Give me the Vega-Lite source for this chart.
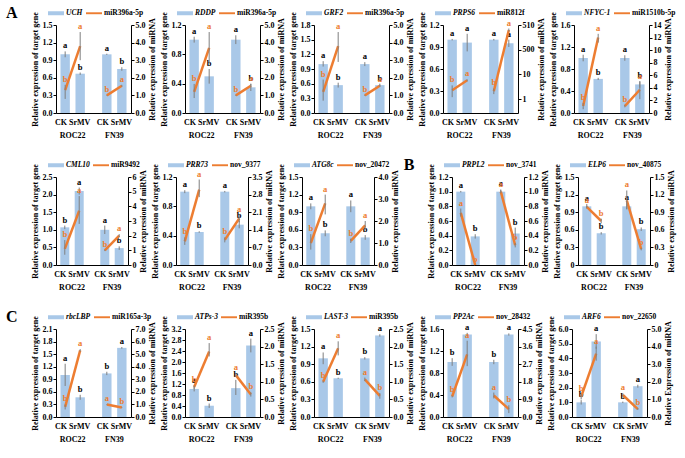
{
"$schema":"https://vega.github.io/schema/vega-lite/v6.json",
"config":{"font":"Liberation Serif","view":{"stroke":null},
"axis":{"labelFont":"Liberation Serif","titleFont":"Liberation Serif","labelFontWeight":"bold","labelFontSize":8,"titleFontWeight":"bold","titleFontSize":8,"domainColor":"#000","tickColor":"#000","labelColor":"#000","titleColor":"#000","grid":false,"tickSize":3,"labelPadding":1,"titlePadding":3,"labelOverlap":false},
"legend":{"labelFont":"Liberation Serif","symbolSize":256,"labelFontSize":7.5,"labelFontWeight":"bold","labelColor":"#000","symbolOpacity":1,"columnPadding":3,"labelOffset":2,"padding":0,"orient":"none","legendX":-8,"legendY":-20,"direction":"horizontal"},
"text":{"font":"Liberation Serif","fontWeight":"bold","fontSize":8.5},
"title":{"font":"Liberation Serif","fontSize":16,"fontWeight":"bold","color":"#000"}},
"data":{"values":[
{"p":"UCH","grp":"ROC22","trt":"CK","g":1.0,"gl":0.95,"gh":1.05,"ga":"a","m":1.3,"ml":0.8,"mh":1.6,"ma":"b"},
{"p":"UCH","grp":"ROC22","trt":"SrMV","g":0.67,"gl":0.65,"gh":0.69,"ga":"b","m":3.8,"ml":3.0,"mh":4.6,"ma":"a"},
{"p":"UCH","grp":"FN39","trt":"CK","g":1.0,"gl":0.99,"gh":1.01,"ga":"a","m":1.0,"ml":0.98,"mh":1.02,"ma":"b"},
{"p":"UCH","grp":"FN39","trt":"SrMV","g":0.75,"gl":0.72,"gh":0.78,"ga":"b","m":1.55,"ml":1.5,"mh":1.6,"ma":"a"},
{"p":"RDDP","grp":"ROC22","trt":"CK","g":1.0,"gl":0.96,"gh":1.04,"ga":"a","m":1.2,"ml":0.85,"mh":1.65,"ma":"b"},
{"p":"RDDP","grp":"ROC22","trt":"SrMV","g":0.5,"gl":0.4,"gh":0.6,"ga":"b","m":3.7,"ml":2.8,"mh":4.6,"ma":"a"},
{"p":"RDDP","grp":"FN39","trt":"CK","g":1.0,"gl":0.94,"gh":1.06,"ga":"a","m":1.0,"ml":0.97,"mh":1.03,"ma":"b"},
{"p":"RDDP","grp":"FN39","trt":"SrMV","g":0.35,"gl":0.3,"gh":0.4,"ga":"b","m":1.55,"ml":1.45,"mh":1.65,"ma":"a"},
{"p":"GRF2","grp":"ROC22","trt":"CK","g":1.0,"gl":0.95,"gh":1.06,"ga":"a","m":1.2,"ml":0.7,"mh":1.9,"ma":"b"},
{"p":"GRF2","grp":"ROC22","trt":"SrMV","g":0.57,"gl":0.52,"gh":0.62,"ga":"b","m":3.8,"ml":2.9,"mh":4.6,"ma":"a"},
{"p":"GRF2","grp":"FN39","trt":"CK","g":1.0,"gl":0.96,"gh":1.04,"ga":"a","m":1.0,"ml":0.97,"mh":1.03,"ma":"b"},
{"p":"GRF2","grp":"FN39","trt":"SrMV","g":0.57,"gl":0.54,"gh":0.6,"ga":"b","m":1.55,"ml":1.5,"mh":1.6,"ma":"a"},
{"p":"PRPS6","grp":"ROC22","trt":"CK","g":1.0,"gl":0.99,"gh":1.01,"ga":"a","m":2.3,"ml":1.2,"mh":3.6,"ma":"b"},
{"p":"PRPS6","grp":"ROC22","trt":"SrMV","g":0.96,"gl":0.84,"gh":1.08,"ga":"a","m":5.8,"ml":5.3,"mh":6.3,"ma":"a"},
{"p":"PRPS6","grp":"FN39","trt":"CK","g":1.0,"gl":0.99,"gh":1.01,"ga":"a","m":2.1,"ml":1.6,"mh":2.7,"ma":"b"},
{"p":"PRPS6","grp":"FN39","trt":"SrMV","g":0.95,"gl":0.9,"gh":1.0,"ga":"a","m":630,"ml":550,"mh":720,"ma":"a"},
{"p":"NFYC-1","grp":"ROC22","trt":"CK","g":1.0,"gl":0.94,"gh":1.06,"ga":"a","m":1.1,"ml":0.6,"mh":1.6,"ma":"b"},
{"p":"NFYC-1","grp":"ROC22","trt":"SrMV","g":0.62,"gl":0.6,"gh":0.64,"ga":"b","m":12,"ml":11.2,"mh":12.6,"ma":"a"},
{"p":"NFYC-1","grp":"FN39","trt":"CK","g":1.0,"gl":0.95,"gh":1.05,"ga":"a","m":1.1,"ml":0.9,"mh":1.3,"ma":"b"},
{"p":"NFYC-1","grp":"FN39","trt":"SrMV","g":0.52,"gl":0.46,"gh":0.58,"ga":"b","m":3.7,"ml":2.2,"mh":5.0,"ma":"a"},
{"p":"CML10","grp":"ROC22","trt":"CK","g":1.07,"gl":1.02,"gh":1.12,"ga":"b","m":1.1,"ml":0.7,"mh":1.7,"ma":"b"},
{"p":"CML10","grp":"ROC22","trt":"SrMV","g":2.1,"gl":2.0,"gh":2.2,"ga":"a","m":3.7,"ml":2.8,"mh":4.7,"ma":"a"},
{"p":"CML10","grp":"FN39","trt":"CK","g":1.0,"gl":0.88,"gh":1.12,"ga":"a","m":1.0,"ml":0.95,"mh":1.05,"ma":"b"},
{"p":"CML10","grp":"FN39","trt":"SrMV","g":0.48,"gl":0.43,"gh":0.53,"ga":"b","m":2.0,"ml":1.9,"mh":2.1,"ma":"a"},
{"p":"PRR73","grp":"ROC22","trt":"CK","g":1.0,"gl":0.98,"gh":1.02,"ga":"a","m":0.94,"ml":0.8,"mh":1.1,"ma":"b"},
{"p":"PRR73","grp":"ROC22","trt":"SrMV","g":0.45,"gl":0.44,"gh":0.46,"ga":"b","m":3.0,"ml":2.7,"mh":3.4,"ma":"a"},
{"p":"PRR73","grp":"FN39","trt":"CK","g":1.0,"gl":0.99,"gh":1.01,"ga":"a","m":1.0,"ml":0.9,"mh":1.1,"ma":"b"},
{"p":"PRR73","grp":"FN39","trt":"SrMV","g":0.55,"gl":0.5,"gh":0.6,"ga":"b","m":1.85,"ml":1.7,"mh":2.0,"ma":"a"},
{"p":"ATG8c","grp":"ROC22","trt":"CK","g":1.0,"gl":0.95,"gh":1.05,"ga":"a","m":1.0,"ml":0.7,"mh":1.4,"ma":"b"},
{"p":"ATG8c","grp":"ROC22","trt":"SrMV","g":0.54,"gl":0.49,"gh":0.59,"ga":"b","m":2.8,"ml":2.3,"mh":3.2,"ma":"a"},
{"p":"ATG8c","grp":"FN39","trt":"CK","g":1.0,"gl":0.9,"gh":1.1,"ga":"a","m":1.1,"ml":1.0,"mh":1.2,"ma":"b"},
{"p":"ATG8c","grp":"FN39","trt":"SrMV","g":0.47,"gl":0.43,"gh":0.51,"ga":"b","m":1.8,"ml":1.6,"mh":2.0,"ma":"a"},
{"p":"PRPL2","grp":"ROC22","trt":"CK","g":1.0,"gl":0.99,"gh":1.01,"ga":"a","m":0.71,"ml":0.66,"mh":0.77,"ma":"a"},
{"p":"PRPL2","grp":"ROC22","trt":"SrMV","g":0.39,"gl":0.36,"gh":0.42,"ga":"b","m":0.0,"ml":0.0,"mh":0.0,"ma":"b"},
{"p":"PRPL2","grp":"FN39","trt":"CK","g":1.0,"gl":0.97,"gh":1.03,"ga":"a","m":1.0,"ml":0.98,"mh":1.02,"ma":"a"},
{"p":"PRPL2","grp":"FN39","trt":"SrMV","g":0.43,"gl":0.35,"gh":0.51,"ga":"b","m":0.27,"ml":0.24,"mh":0.3,"ma":"b"},
{"p":"ELP6","grp":"ROC22","trt":"CK","g":1.0,"gl":0.96,"gh":1.04,"ga":"a","m":0.99,"ml":0.97,"mh":1.01,"ma":"a"},
{"p":"ELP6","grp":"ROC22","trt":"SrMV","g":0.54,"gl":0.52,"gh":0.56,"ga":"b","m":0.75,"ml":0.71,"mh":0.79,"ma":"b"},
{"p":"ELP6","grp":"FN39","trt":"CK","g":1.0,"gl":0.95,"gh":1.05,"ga":"a","m":1.1,"ml":0.95,"mh":1.27,"ma":"a"},
{"p":"ELP6","grp":"FN39","trt":"SrMV","g":0.61,"gl":0.58,"gh":0.64,"ga":"b","m":0.27,"ml":0.25,"mh":0.29,"ma":"b"},
{"p":"rbcLBP","grp":"ROC22","trt":"CK","g":1.0,"gl":0.74,"gh":1.27,"ga":"a","m":0.8,"ml":0.6,"mh":1.0,"ma":"b"},
{"p":"rbcLBP","grp":"ROC22","trt":"SrMV","g":0.47,"gl":0.41,"gh":0.53,"ga":"b","m":5.3,"ml":5.2,"mh":5.4,"ma":"a"},
{"p":"rbcLBP","grp":"FN39","trt":"CK","g":1.04,"gl":1.0,"gh":1.08,"ga":"b","m":1.0,"ml":0.97,"mh":1.03,"ma":"a"},
{"p":"rbcLBP","grp":"FN39","trt":"SrMV","g":1.65,"gl":1.63,"gh":1.67,"ga":"a","m":0.75,"ml":0.72,"mh":0.78,"ma":"b"},
{"p":"ATPs-3","grp":"ROC22","trt":"CK","g":1.02,"gl":0.93,"gh":1.11,"ga":"a","m":0.85,"ml":0.8,"mh":0.9,"ma":"b"},
{"p":"ATPs-3","grp":"ROC22","trt":"SrMV","g":0.41,"gl":0.33,"gh":0.49,"ga":"b","m":1.86,"ml":1.72,"mh":2.1,"ma":"a"},
{"p":"ATPs-3","grp":"FN39","trt":"CK","g":1.05,"gl":0.8,"gh":1.35,"ga":"b","m":1.19,"ml":1.14,"mh":1.24,"ma":"a"},
{"p":"ATPs-3","grp":"FN39","trt":"SrMV","g":2.6,"gl":2.35,"gh":2.85,"ga":"a","m":0.64,"ml":0.58,"mh":0.7,"ma":"b"},
{"p":"LAST-3","grp":"ROC22","trt":"CK","g":1.0,"gl":0.9,"gh":1.1,"ga":"a","m":1.0,"ml":0.97,"mh":1.03,"ma":"b"},
{"p":"LAST-3","grp":"ROC22","trt":"SrMV","g":0.66,"gl":0.65,"gh":0.67,"ga":"b","m":1.95,"ml":1.75,"mh":2.15,"ma":"a"},
{"p":"LAST-3","grp":"FN39","trt":"CK","g":1.0,"gl":0.98,"gh":1.02,"ga":"b","m":1.07,"ml":1.02,"mh":1.12,"ma":"a"},
{"p":"LAST-3","grp":"FN39","trt":"SrMV","g":1.39,"gl":1.37,"gh":1.41,"ga":"a","m":0.6,"ml":0.52,"mh":0.68,"ma":"b"},
{"p":"PP2Ac","grp":"ROC22","trt":"CK","g":1.0,"gl":0.93,"gh":1.07,"ga":"b","m":1.05,"ml":1.0,"mh":1.1,"ma":"b"},
{"p":"PP2Ac","grp":"ROC22","trt":"SrMV","g":1.5,"gl":1.47,"gh":1.53,"ga":"a","m":3.2,"ml":2.6,"mh":3.9,"ma":"a"},
{"p":"PP2Ac","grp":"FN39","trt":"CK","g":1.0,"gl":0.96,"gh":1.04,"ga":"b","m":1.1,"ml":0.95,"mh":1.25,"ma":"a"},
{"p":"PP2Ac","grp":"FN39","trt":"SrMV","g":1.5,"gl":1.48,"gh":1.52,"ga":"a","m":0.4,"ml":0.2,"mh":0.6,"ma":"b"},
{"p":"ARF6","grp":"ROC22","trt":"CK","g":1.0,"gl":0.85,"gh":1.15,"ga":"b","m":1.15,"ml":1.0,"mh":1.3,"ma":"b"},
{"p":"ARF6","grp":"ROC22","trt":"SrMV","g":5.15,"gl":4.65,"gh":5.65,"ga":"a","m":3.6,"ml":3.2,"mh":4.0,"ma":"a"},
{"p":"ARF6","grp":"FN39","trt":"CK","g":1.0,"gl":0.95,"gh":1.05,"ga":"b","m":1.25,"ml":1.15,"mh":1.35,"ma":"a"},
{"p":"ARF6","grp":"FN39","trt":"SrMV","g":2.1,"gl":2.0,"gh":2.2,"ga":"a","m":0.45,"ml":0.4,"mh":0.5,"ma":"b"}
]},
"spacing":18,
"resolve":{"scale":{"color":"independent","y":"independent","x":"independent","xOffset":"independent"},"legend":{"color":"independent"}},
"vconcat":[
{"title":{"text":"A","orient":"left","anchor":"end","angle":0,"offset":2},"spacing":4,
"resolve":{"scale":{"color":"independent","y":"independent","x":"independent","xOffset":"independent"},"legend":{"color":"independent"}},
"hconcat":[
{"width":75,"height":88,"transform":[{"filter":"datum.p=='UCH'"}],
"encoding":{"x":{"field":"grp","type":"nominal","sort":["ROC22","FN39"],"scale":{"paddingInner":0.4,"paddingOuter":0.1},"axis":{"title":null,"labelAngle":0,"labelExpr":"['CK SrMV', datum.label]","ticks":false,"labelPadding":5,"labelLineHeight":13}},"xOffset":{"field":"trt","type":"nominal","sort":["CK","SrMV"],"scale":{"paddingInner":0.375,"paddingOuter":0.02}}},
"layer":[
{"layer":[
{"mark":{"type":"bar"},"encoding":{"y":{"field":"g","type":"quantitative","scale":{"domain":[0,1.5],"nice":false},"axis":{"title":"Relative expression of target gene","values":[0,0.3,0.6,0.9,1.2,1.5],"format":".1f"}},"color":{"datum":"UCH","scale":{"domain":["UCH","miR396a-5p"],"range":["#a9c8e8","#ed7d31"]},"legend":{"title":null,"encode":{"symbols":{"update":{"shape":{"signal":"datum.index === 0 ? 'M-1,-0.25H1V0.25H-1Z' : 'M-1,-0.12H1V0.12H-1Z'"},"fill":{"signal":"datum.index === 0 ? '#a9c8e8' : '#ed7d31'"},"strokeWidth":{"value":0}}},"labels":{"update":{"fontStyle":{"signal":"datum.index === 0 ? 'italic' : 'normal'"}}}}}}}},
{"mark":{"type":"rule","color":"#7f7f7f"},"encoding":{"y":{"field":"gl","type":"quantitative","scale":{"domain":[0,1.5],"nice":false},"axis":{"title":"Relative expression of target gene","values":[0,0.3,0.6,0.9,1.2,1.5],"format":".1f"}},"y2":{"field":"gh"}}},
{"mark":{"type":"text","baseline":"bottom","dy":-1,"color":"#000"},"encoding":{"y":{"field":"gh","type":"quantitative","scale":{"domain":[0,1.5],"nice":false},"axis":{"title":"Relative expression of target gene","values":[0,0.3,0.6,0.9,1.2,1.5],"format":".1f"}},"text":{"field":"ga"}}}
]},
{"layer":[
{"mark":{"type":"line","strokeWidth":2.5},"encoding":{"y":{"field":"m","type":"quantitative","scale":{"domain":[0,5],"nice":false},"axis":{"orient":"right","title":"Relative expression of miRNA","titleAngle":270,"titleBaseline":"top","values":[0,1,2,3,4,5],"format":".1f"}},"detail":{"field":"grp"},"color":{"datum":"miR396a-5p"}}},
{"mark":{"type":"rule","color":"#7f7f7f"},"encoding":{"y":{"field":"ml","type":"quantitative","scale":{"domain":[0,5],"nice":false},"axis":{"orient":"right","title":"Relative expression of miRNA","titleAngle":270,"titleBaseline":"top","values":[0,1,2,3,4,5],"format":".1f"}},"y2":{"field":"mh"}}},
{"mark":{"type":"text","baseline":"bottom","dy":-1,"color":"#ed7d31"},"encoding":{"y":{"field":"mh","type":"quantitative","scale":{"domain":[0,5],"nice":false},"axis":{"orient":"right","title":"Relative expression of miRNA","titleAngle":270,"titleBaseline":"top","values":[0,1,2,3,4,5],"format":".1f"}},"text":{"field":"ma"}}}
]}],
"resolve":{"scale":{"y":"independent"}}},
{"width":75,"height":88,"transform":[{"filter":"datum.p=='RDDP'"}],
"encoding":{"x":{"field":"grp","type":"nominal","sort":["ROC22","FN39"],"scale":{"paddingInner":0.4,"paddingOuter":0.1},"axis":{"title":null,"labelAngle":0,"labelExpr":"['CK SrMV', datum.label]","ticks":false,"labelPadding":5,"labelLineHeight":13}},"xOffset":{"field":"trt","type":"nominal","sort":["CK","SrMV"],"scale":{"paddingInner":0.375,"paddingOuter":0.02}}},
"layer":[
{"layer":[
{"mark":{"type":"bar"},"encoding":{"y":{"field":"g","type":"quantitative","scale":{"domain":[0,1.2],"nice":false},"axis":{"title":"Relative expression of target gene","values":[0,0.4,0.8,1.2],"format":".1f"}},"color":{"datum":"RDDP","scale":{"domain":["RDDP","miR396a-5p"],"range":["#a9c8e8","#ed7d31"]},"legend":{"title":null,"encode":{"symbols":{"update":{"shape":{"signal":"datum.index === 0 ? 'M-1,-0.25H1V0.25H-1Z' : 'M-1,-0.12H1V0.12H-1Z'"},"fill":{"signal":"datum.index === 0 ? '#a9c8e8' : '#ed7d31'"},"strokeWidth":{"value":0}}},"labels":{"update":{"fontStyle":{"signal":"datum.index === 0 ? 'italic' : 'normal'"}}}}}}}},
{"mark":{"type":"rule","color":"#7f7f7f"},"encoding":{"y":{"field":"gl","type":"quantitative","scale":{"domain":[0,1.2],"nice":false},"axis":{"title":"Relative expression of target gene","values":[0,0.4,0.8,1.2],"format":".1f"}},"y2":{"field":"gh"}}},
{"mark":{"type":"text","baseline":"bottom","dy":-1,"color":"#000"},"encoding":{"y":{"field":"gh","type":"quantitative","scale":{"domain":[0,1.2],"nice":false},"axis":{"title":"Relative expression of target gene","values":[0,0.4,0.8,1.2],"format":".1f"}},"text":{"field":"ga"}}}
]},
{"layer":[
{"mark":{"type":"line","strokeWidth":2.5},"encoding":{"y":{"field":"m","type":"quantitative","scale":{"domain":[0,5],"nice":false},"axis":{"orient":"right","title":"Relative expression of miRNA","titleAngle":270,"titleBaseline":"top","values":[0,1,2,3,4,5],"format":".1f"}},"detail":{"field":"grp"},"color":{"datum":"miR396a-5p"}}},
{"mark":{"type":"rule","color":"#7f7f7f"},"encoding":{"y":{"field":"ml","type":"quantitative","scale":{"domain":[0,5],"nice":false},"axis":{"orient":"right","title":"Relative expression of miRNA","titleAngle":270,"titleBaseline":"top","values":[0,1,2,3,4,5],"format":".1f"}},"y2":{"field":"mh"}}},
{"mark":{"type":"text","baseline":"bottom","dy":-1,"color":"#ed7d31"},"encoding":{"y":{"field":"mh","type":"quantitative","scale":{"domain":[0,5],"nice":false},"axis":{"orient":"right","title":"Relative expression of miRNA","titleAngle":270,"titleBaseline":"top","values":[0,1,2,3,4,5],"format":".1f"}},"text":{"field":"ma"}}}
]}],
"resolve":{"scale":{"y":"independent"}}},
{"width":75,"height":88,"transform":[{"filter":"datum.p=='GRF2'"}],
"encoding":{"x":{"field":"grp","type":"nominal","sort":["ROC22","FN39"],"scale":{"paddingInner":0.4,"paddingOuter":0.1},"axis":{"title":null,"labelAngle":0,"labelExpr":"['CK SrMV', datum.label]","ticks":false,"labelPadding":5,"labelLineHeight":13}},"xOffset":{"field":"trt","type":"nominal","sort":["CK","SrMV"],"scale":{"paddingInner":0.375,"paddingOuter":0.02}}},
"layer":[
{"layer":[
{"mark":{"type":"bar"},"encoding":{"y":{"field":"g","type":"quantitative","scale":{"domain":[0,1.8],"nice":false},"axis":{"title":"Relative expression of target gene","values":[0,0.3,0.6,0.9,1.2,1.5,1.8],"format":".1f"}},"color":{"datum":"GRF2","scale":{"domain":["GRF2","miR396a-5p"],"range":["#a9c8e8","#ed7d31"]},"legend":{"title":null,"encode":{"symbols":{"update":{"shape":{"signal":"datum.index === 0 ? 'M-1,-0.25H1V0.25H-1Z' : 'M-1,-0.12H1V0.12H-1Z'"},"fill":{"signal":"datum.index === 0 ? '#a9c8e8' : '#ed7d31'"},"strokeWidth":{"value":0}}},"labels":{"update":{"fontStyle":{"signal":"datum.index === 0 ? 'italic' : 'normal'"}}}}}}}},
{"mark":{"type":"rule","color":"#7f7f7f"},"encoding":{"y":{"field":"gl","type":"quantitative","scale":{"domain":[0,1.8],"nice":false},"axis":{"title":"Relative expression of target gene","values":[0,0.3,0.6,0.9,1.2,1.5,1.8],"format":".1f"}},"y2":{"field":"gh"}}},
{"mark":{"type":"text","baseline":"bottom","dy":-1,"color":"#000"},"encoding":{"y":{"field":"gh","type":"quantitative","scale":{"domain":[0,1.8],"nice":false},"axis":{"title":"Relative expression of target gene","values":[0,0.3,0.6,0.9,1.2,1.5,1.8],"format":".1f"}},"text":{"field":"ga"}}}
]},
{"layer":[
{"mark":{"type":"line","strokeWidth":2.5},"encoding":{"y":{"field":"m","type":"quantitative","scale":{"domain":[0,5],"nice":false},"axis":{"orient":"right","title":"Relative expression of miRNA","titleAngle":270,"titleBaseline":"top","values":[0,1,2,3,4,5],"format":".1f"}},"detail":{"field":"grp"},"color":{"datum":"miR396a-5p"}}},
{"mark":{"type":"rule","color":"#7f7f7f"},"encoding":{"y":{"field":"ml","type":"quantitative","scale":{"domain":[0,5],"nice":false},"axis":{"orient":"right","title":"Relative expression of miRNA","titleAngle":270,"titleBaseline":"top","values":[0,1,2,3,4,5],"format":".1f"}},"y2":{"field":"mh"}}},
{"mark":{"type":"text","baseline":"bottom","dy":-1,"color":"#ed7d31"},"encoding":{"y":{"field":"mh","type":"quantitative","scale":{"domain":[0,5],"nice":false},"axis":{"orient":"right","title":"Relative expression of miRNA","titleAngle":270,"titleBaseline":"top","values":[0,1,2,3,4,5],"format":".1f"}},"text":{"field":"ma"}}}
]}],
"resolve":{"scale":{"y":"independent"}}},
{"width":75,"height":88,"transform":[{"filter":"datum.p=='PRPS6'"}],
"encoding":{"x":{"field":"grp","type":"nominal","sort":["ROC22","FN39"],"scale":{"paddingInner":0.4,"paddingOuter":0.1},"axis":{"title":null,"labelAngle":0,"labelExpr":"['CK SrMV', datum.label]","ticks":false,"labelPadding":5,"labelLineHeight":13}},"xOffset":{"field":"trt","type":"nominal","sort":["CK","SrMV"],"scale":{"paddingInner":0.375,"paddingOuter":0.02}}},
"layer":[
{"layer":[
{"mark":{"type":"bar"},"encoding":{"y":{"field":"g","type":"quantitative","scale":{"domain":[0,1.2],"nice":false},"axis":{"title":"Relative expression of target gene","values":[0,0.3,0.6,0.9,1.2],"format":".1f"}},"color":{"datum":"PRPS6","scale":{"domain":["PRPS6","miR812f"],"range":["#a9c8e8","#ed7d31"]},"legend":{"title":null,"encode":{"symbols":{"update":{"shape":{"signal":"datum.index === 0 ? 'M-1,-0.25H1V0.25H-1Z' : 'M-1,-0.12H1V0.12H-1Z'"},"fill":{"signal":"datum.index === 0 ? '#a9c8e8' : '#ed7d31'"},"strokeWidth":{"value":0}}},"labels":{"update":{"fontStyle":{"signal":"datum.index === 0 ? 'italic' : 'normal'"}}}}}}}},
{"mark":{"type":"rule","color":"#7f7f7f"},"encoding":{"y":{"field":"gl","type":"quantitative","scale":{"domain":[0,1.2],"nice":false},"axis":{"title":"Relative expression of target gene","values":[0,0.3,0.6,0.9,1.2],"format":".1f"}},"y2":{"field":"gh"}}},
{"mark":{"type":"text","baseline":"bottom","dy":-1,"color":"#000"},"encoding":{"y":{"field":"gh","type":"quantitative","scale":{"domain":[0,1.2],"nice":false},"axis":{"title":"Relative expression of target gene","values":[0,0.3,0.6,0.9,1.2],"format":".1f"}},"text":{"field":"ga"}}}
]},
{"layer":[
{"mark":{"type":"line","strokeWidth":2.5},"encoding":{"y":{"field":"m","type":"quantitative","scale":{"type":"log","domain":[0.275,1000],"nice":false},"axis":{"orient":"right","title":"Relative expression of miRNA","titleAngle":270,"titleBaseline":"top","values":[1,10,100,1000],"labelExpr":"datum.value == 1 ? '1' : datum.value == 10 ? '10' : datum.value == 100 ? '500' : '510'"}},"detail":{"field":"grp"},"color":{"datum":"miR812f"}}},
{"mark":{"type":"rule","color":"#7f7f7f"},"encoding":{"y":{"field":"ml","type":"quantitative","scale":{"type":"log","domain":[0.275,1000],"nice":false},"axis":{"orient":"right","title":"Relative expression of miRNA","titleAngle":270,"titleBaseline":"top","values":[1,10,100,1000],"labelExpr":"datum.value == 1 ? '1' : datum.value == 10 ? '10' : datum.value == 100 ? '500' : '510'"}},"y2":{"field":"mh"}}},
{"mark":{"type":"text","baseline":"bottom","dy":-1,"color":"#ed7d31"},"encoding":{"y":{"field":"mh","type":"quantitative","scale":{"type":"log","domain":[0.275,1000],"nice":false},"axis":{"orient":"right","title":"Relative expression of miRNA","titleAngle":270,"titleBaseline":"top","values":[1,10,100,1000],"labelExpr":"datum.value == 1 ? '1' : datum.value == 10 ? '10' : datum.value == 100 ? '500' : '510'"}},"text":{"field":"ma"}}}
]}],
"resolve":{"scale":{"y":"independent"}}},
{"width":75,"height":88,"transform":[{"filter":"datum.p=='NFYC-1'"}],
"encoding":{"x":{"field":"grp","type":"nominal","sort":["ROC22","FN39"],"scale":{"paddingInner":0.4,"paddingOuter":0.1},"axis":{"title":null,"labelAngle":0,"labelExpr":"['CK SrMV', datum.label]","ticks":false,"labelPadding":5,"labelLineHeight":13}},"xOffset":{"field":"trt","type":"nominal","sort":["CK","SrMV"],"scale":{"paddingInner":0.375,"paddingOuter":0.02}}},
"layer":[
{"layer":[
{"mark":{"type":"bar"},"encoding":{"y":{"field":"g","type":"quantitative","scale":{"domain":[0,1.6],"nice":false},"axis":{"title":"Relative expression of target gene","values":[0,0.4,0.8,1.2,1.6],"format":".1f"}},"color":{"datum":"NFYC-1","scale":{"domain":["NFYC-1","miR1510b-5p"],"range":["#a9c8e8","#ed7d31"]},"legend":{"title":null,"encode":{"symbols":{"update":{"shape":{"signal":"datum.index === 0 ? 'M-1,-0.25H1V0.25H-1Z' : 'M-1,-0.12H1V0.12H-1Z'"},"fill":{"signal":"datum.index === 0 ? '#a9c8e8' : '#ed7d31'"},"strokeWidth":{"value":0}}},"labels":{"update":{"fontStyle":{"signal":"datum.index === 0 ? 'italic' : 'normal'"}}}}}}}},
{"mark":{"type":"rule","color":"#7f7f7f"},"encoding":{"y":{"field":"gl","type":"quantitative","scale":{"domain":[0,1.6],"nice":false},"axis":{"title":"Relative expression of target gene","values":[0,0.4,0.8,1.2,1.6],"format":".1f"}},"y2":{"field":"gh"}}},
{"mark":{"type":"text","baseline":"bottom","dy":-1,"color":"#000"},"encoding":{"y":{"field":"gh","type":"quantitative","scale":{"domain":[0,1.6],"nice":false},"axis":{"title":"Relative expression of target gene","values":[0,0.4,0.8,1.2,1.6],"format":".1f"}},"text":{"field":"ga"}}}
]},
{"layer":[
{"mark":{"type":"line","strokeWidth":2.5},"encoding":{"y":{"field":"m","type":"quantitative","scale":{"domain":[0,14],"nice":false},"axis":{"orient":"right","title":"Relative expression of miRNA","titleAngle":270,"titleBaseline":"top","values":[0,2,4,6,8,10,12,14],"format":"d"}},"detail":{"field":"grp"},"color":{"datum":"miR1510b-5p"}}},
{"mark":{"type":"rule","color":"#7f7f7f"},"encoding":{"y":{"field":"ml","type":"quantitative","scale":{"domain":[0,14],"nice":false},"axis":{"orient":"right","title":"Relative expression of miRNA","titleAngle":270,"titleBaseline":"top","values":[0,2,4,6,8,10,12,14],"format":"d"}},"y2":{"field":"mh"}}},
{"mark":{"type":"text","baseline":"bottom","dy":-1,"color":"#ed7d31"},"encoding":{"y":{"field":"mh","type":"quantitative","scale":{"domain":[0,14],"nice":false},"axis":{"orient":"right","title":"Relative expression of miRNA","titleAngle":270,"titleBaseline":"top","values":[0,2,4,6,8,10,12,14],"format":"d"}},"text":{"field":"ma"}}}
]}],
"resolve":{"scale":{"y":"independent"}}}
]},
{"title":{"text":"\u2002\u2009","orient":"left","anchor":"end","angle":0,"offset":2},"spacing":4,
"resolve":{"scale":{"color":"independent","y":"independent","x":"independent","xOffset":"independent"},"legend":{"color":"independent"}},
"hconcat":[
{"width":72,"height":88,"transform":[{"filter":"datum.p=='CML10'"}],
"encoding":{"x":{"field":"grp","type":"nominal","sort":["ROC22","FN39"],"scale":{"paddingInner":0.4,"paddingOuter":0.1},"axis":{"title":null,"labelAngle":0,"labelExpr":"['CK SrMV', datum.label]","ticks":false,"labelPadding":5,"labelLineHeight":13}},"xOffset":{"field":"trt","type":"nominal","sort":["CK","SrMV"],"scale":{"paddingInner":0.375,"paddingOuter":0.02}}},
"layer":[
{"layer":[
{"mark":{"type":"bar"},"encoding":{"y":{"field":"g","type":"quantitative","scale":{"domain":[0,2.5],"nice":false},"axis":{"title":"Relative expression of target gene","values":[0,0.5,1,1.5,2,2.5],"format":".1f"}},"color":{"datum":"CML10","scale":{"domain":["CML10","miR9492"],"range":["#a9c8e8","#ed7d31"]},"legend":{"title":null,"encode":{"symbols":{"update":{"shape":{"signal":"datum.index === 0 ? 'M-1,-0.25H1V0.25H-1Z' : 'M-1,-0.12H1V0.12H-1Z'"},"fill":{"signal":"datum.index === 0 ? '#a9c8e8' : '#ed7d31'"},"strokeWidth":{"value":0}}},"labels":{"update":{"fontStyle":{"signal":"datum.index === 0 ? 'italic' : 'normal'"}}}}}}}},
{"mark":{"type":"rule","color":"#7f7f7f"},"encoding":{"y":{"field":"gl","type":"quantitative","scale":{"domain":[0,2.5],"nice":false},"axis":{"title":"Relative expression of target gene","values":[0,0.5,1,1.5,2,2.5],"format":".1f"}},"y2":{"field":"gh"}}},
{"mark":{"type":"text","baseline":"bottom","dy":-1,"color":"#000"},"encoding":{"y":{"field":"gh","type":"quantitative","scale":{"domain":[0,2.5],"nice":false},"axis":{"title":"Relative expression of target gene","values":[0,0.5,1,1.5,2,2.5],"format":".1f"}},"text":{"field":"ga"}}}
]},
{"layer":[
{"mark":{"type":"line","strokeWidth":2.5},"encoding":{"y":{"field":"m","type":"quantitative","scale":{"domain":[0,6],"nice":false},"axis":{"orient":"right","title":"Relative expression of miRNA","titleAngle":270,"titleBaseline":"top","values":[0,1,2,3,4,5,6],"format":"d"}},"detail":{"field":"grp"},"color":{"datum":"miR9492"}}},
{"mark":{"type":"rule","color":"#7f7f7f"},"encoding":{"y":{"field":"ml","type":"quantitative","scale":{"domain":[0,6],"nice":false},"axis":{"orient":"right","title":"Relative expression of miRNA","titleAngle":270,"titleBaseline":"top","values":[0,1,2,3,4,5,6],"format":"d"}},"y2":{"field":"mh"}}},
{"mark":{"type":"text","baseline":"bottom","dy":-1,"color":"#ed7d31"},"encoding":{"y":{"field":"mh","type":"quantitative","scale":{"domain":[0,6],"nice":false},"axis":{"orient":"right","title":"Relative expression of miRNA","titleAngle":270,"titleBaseline":"top","values":[0,1,2,3,4,5,6],"format":"d"}},"text":{"field":"ma"}}}
]}],
"resolve":{"scale":{"y":"independent"}}},
{"width":72,"height":88,"transform":[{"filter":"datum.p=='PRR73'"}],
"encoding":{"x":{"field":"grp","type":"nominal","sort":["ROC22","FN39"],"scale":{"paddingInner":0.4,"paddingOuter":0.1},"axis":{"title":null,"labelAngle":0,"labelExpr":"['CK SrMV', datum.label]","ticks":false,"labelPadding":5,"labelLineHeight":13}},"xOffset":{"field":"trt","type":"nominal","sort":["CK","SrMV"],"scale":{"paddingInner":0.375,"paddingOuter":0.02}}},
"layer":[
{"layer":[
{"mark":{"type":"bar"},"encoding":{"y":{"field":"g","type":"quantitative","scale":{"domain":[0,1.2],"nice":false},"axis":{"title":"Relative expression of target gene","values":[0,0.4,0.8,1.2],"format":".1f"}},"color":{"datum":"PRR73","scale":{"domain":["PRR73","nov_9377"],"range":["#a9c8e8","#ed7d31"]},"legend":{"title":null,"encode":{"symbols":{"update":{"shape":{"signal":"datum.index === 0 ? 'M-1,-0.25H1V0.25H-1Z' : 'M-1,-0.12H1V0.12H-1Z'"},"fill":{"signal":"datum.index === 0 ? '#a9c8e8' : '#ed7d31'"},"strokeWidth":{"value":0}}},"labels":{"update":{"fontStyle":{"signal":"datum.index === 0 ? 'italic' : 'normal'"}}}}}}}},
{"mark":{"type":"rule","color":"#7f7f7f"},"encoding":{"y":{"field":"gl","type":"quantitative","scale":{"domain":[0,1.2],"nice":false},"axis":{"title":"Relative expression of target gene","values":[0,0.4,0.8,1.2],"format":".1f"}},"y2":{"field":"gh"}}},
{"mark":{"type":"text","baseline":"bottom","dy":-1,"color":"#000"},"encoding":{"y":{"field":"gh","type":"quantitative","scale":{"domain":[0,1.2],"nice":false},"axis":{"title":"Relative expression of target gene","values":[0,0.4,0.8,1.2],"format":".1f"}},"text":{"field":"ga"}}}
]},
{"layer":[
{"mark":{"type":"line","strokeWidth":2.5},"encoding":{"y":{"field":"m","type":"quantitative","scale":{"domain":[0,3.5],"nice":false},"axis":{"orient":"right","title":"Relative expression of miRNA","titleAngle":270,"titleBaseline":"top","values":[0,0.7,1.4,2.1,2.8,3.5],"format":".1f"}},"detail":{"field":"grp"},"color":{"datum":"nov_9377"}}},
{"mark":{"type":"rule","color":"#7f7f7f"},"encoding":{"y":{"field":"ml","type":"quantitative","scale":{"domain":[0,3.5],"nice":false},"axis":{"orient":"right","title":"Relative expression of miRNA","titleAngle":270,"titleBaseline":"top","values":[0,0.7,1.4,2.1,2.8,3.5],"format":".1f"}},"y2":{"field":"mh"}}},
{"mark":{"type":"text","baseline":"bottom","dy":-1,"color":"#ed7d31"},"encoding":{"y":{"field":"mh","type":"quantitative","scale":{"domain":[0,3.5],"nice":false},"axis":{"orient":"right","title":"Relative expression of miRNA","titleAngle":270,"titleBaseline":"top","values":[0,0.7,1.4,2.1,2.8,3.5],"format":".1f"}},"text":{"field":"ma"}}}
]}],
"resolve":{"scale":{"y":"independent"}}},
{"width":72,"height":88,"transform":[{"filter":"datum.p=='ATG8c'"}],
"encoding":{"x":{"field":"grp","type":"nominal","sort":["ROC22","FN39"],"scale":{"paddingInner":0.4,"paddingOuter":0.1},"axis":{"title":null,"labelAngle":0,"labelExpr":"['CK SrMV', datum.label]","ticks":false,"labelPadding":5,"labelLineHeight":13}},"xOffset":{"field":"trt","type":"nominal","sort":["CK","SrMV"],"scale":{"paddingInner":0.375,"paddingOuter":0.02}}},
"layer":[
{"layer":[
{"mark":{"type":"bar"},"encoding":{"y":{"field":"g","type":"quantitative","scale":{"domain":[0,1.5],"nice":false},"axis":{"title":"Relative expression of target gene","values":[0,0.3,0.6,0.9,1.2,1.5],"format":".1f"}},"color":{"datum":"ATG8c","scale":{"domain":["ATG8c","nov_20472"],"range":["#a9c8e8","#ed7d31"]},"legend":{"title":null,"encode":{"symbols":{"update":{"shape":{"signal":"datum.index === 0 ? 'M-1,-0.25H1V0.25H-1Z' : 'M-1,-0.12H1V0.12H-1Z'"},"fill":{"signal":"datum.index === 0 ? '#a9c8e8' : '#ed7d31'"},"strokeWidth":{"value":0}}},"labels":{"update":{"fontStyle":{"signal":"datum.index === 0 ? 'italic' : 'normal'"}}}}}}}},
{"mark":{"type":"rule","color":"#7f7f7f"},"encoding":{"y":{"field":"gl","type":"quantitative","scale":{"domain":[0,1.5],"nice":false},"axis":{"title":"Relative expression of target gene","values":[0,0.3,0.6,0.9,1.2,1.5],"format":".1f"}},"y2":{"field":"gh"}}},
{"mark":{"type":"text","baseline":"bottom","dy":-1,"color":"#000"},"encoding":{"y":{"field":"gh","type":"quantitative","scale":{"domain":[0,1.5],"nice":false},"axis":{"title":"Relative expression of target gene","values":[0,0.3,0.6,0.9,1.2,1.5],"format":".1f"}},"text":{"field":"ga"}}}
]},
{"layer":[
{"mark":{"type":"line","strokeWidth":2.5},"encoding":{"y":{"field":"m","type":"quantitative","scale":{"domain":[0,4],"nice":false},"axis":{"orient":"right","title":"Relative expression of miRNA","titleAngle":270,"titleBaseline":"top","values":[0,1,2,3,4],"format":".1f"}},"detail":{"field":"grp"},"color":{"datum":"nov_20472"}}},
{"mark":{"type":"rule","color":"#7f7f7f"},"encoding":{"y":{"field":"ml","type":"quantitative","scale":{"domain":[0,4],"nice":false},"axis":{"orient":"right","title":"Relative expression of miRNA","titleAngle":270,"titleBaseline":"top","values":[0,1,2,3,4],"format":".1f"}},"y2":{"field":"mh"}}},
{"mark":{"type":"text","baseline":"bottom","dy":-1,"color":"#ed7d31"},"encoding":{"y":{"field":"mh","type":"quantitative","scale":{"domain":[0,4],"nice":false},"axis":{"orient":"right","title":"Relative expression of miRNA","titleAngle":270,"titleBaseline":"top","values":[0,1,2,3,4],"format":".1f"}},"text":{"field":"ma"}}}
]}],
"resolve":{"scale":{"y":"independent"}}},
{"title":{"text":"B","orient":"left","anchor":"end","angle":0,"offset":2},"spacing":4,
"resolve":{"scale":{"color":"independent","y":"independent","x":"independent","xOffset":"independent"},"legend":{"color":"independent"}},
"hconcat":[
{"width":72,"height":88,"transform":[{"filter":"datum.p=='PRPL2'"}],
"encoding":{"x":{"field":"grp","type":"nominal","sort":["ROC22","FN39"],"scale":{"paddingInner":0.4,"paddingOuter":0.1},"axis":{"title":null,"labelAngle":0,"labelExpr":"['CK SrMV', datum.label]","ticks":false,"labelPadding":5,"labelLineHeight":13}},"xOffset":{"field":"trt","type":"nominal","sort":["CK","SrMV"],"scale":{"paddingInner":0.375,"paddingOuter":0.02}}},
"layer":[
{"layer":[
{"mark":{"type":"bar"},"encoding":{"y":{"field":"g","type":"quantitative","scale":{"domain":[0,1.2],"nice":false},"axis":{"title":"Relative expression of target gene","values":[0,0.2,0.4,0.6,0.8,1,1.2],"format":".1f"}},"color":{"datum":"PRPL2","scale":{"domain":["PRPL2","nov_3741"],"range":["#a9c8e8","#ed7d31"]},"legend":{"title":null,"encode":{"symbols":{"update":{"shape":{"signal":"datum.index === 0 ? 'M-1,-0.25H1V0.25H-1Z' : 'M-1,-0.12H1V0.12H-1Z'"},"fill":{"signal":"datum.index === 0 ? '#a9c8e8' : '#ed7d31'"},"strokeWidth":{"value":0}}},"labels":{"update":{"fontStyle":{"signal":"datum.index === 0 ? 'italic' : 'normal'"}}}}}}}},
{"mark":{"type":"rule","color":"#7f7f7f"},"encoding":{"y":{"field":"gl","type":"quantitative","scale":{"domain":[0,1.2],"nice":false},"axis":{"title":"Relative expression of target gene","values":[0,0.2,0.4,0.6,0.8,1,1.2],"format":".1f"}},"y2":{"field":"gh"}}},
{"mark":{"type":"text","baseline":"bottom","dy":-1,"color":"#000"},"encoding":{"y":{"field":"gh","type":"quantitative","scale":{"domain":[0,1.2],"nice":false},"axis":{"title":"Relative expression of target gene","values":[0,0.2,0.4,0.6,0.8,1,1.2],"format":".1f"}},"text":{"field":"ga"}}}
]},
{"layer":[
{"mark":{"type":"line","strokeWidth":2.5},"encoding":{"y":{"field":"m","type":"quantitative","scale":{"domain":[0,1.2],"nice":false},"axis":{"orient":"right","title":"Relative expression of miRNA","titleAngle":270,"titleBaseline":"top","values":[0,0.2,0.4,0.6,0.8,1,1.2],"format":".1f"}},"detail":{"field":"grp"},"color":{"datum":"nov_3741"}}},
{"mark":{"type":"rule","color":"#7f7f7f"},"encoding":{"y":{"field":"ml","type":"quantitative","scale":{"domain":[0,1.2],"nice":false},"axis":{"orient":"right","title":"Relative expression of miRNA","titleAngle":270,"titleBaseline":"top","values":[0,0.2,0.4,0.6,0.8,1,1.2],"format":".1f"}},"y2":{"field":"mh"}}},
{"mark":{"type":"text","baseline":"bottom","dy":-1,"color":"#ed7d31"},"encoding":{"y":{"field":"mh","type":"quantitative","scale":{"domain":[0,1.2],"nice":false},"axis":{"orient":"right","title":"Relative expression of miRNA","titleAngle":270,"titleBaseline":"top","values":[0,0.2,0.4,0.6,0.8,1,1.2],"format":".1f"}},"text":{"field":"ma"}}}
]}],
"resolve":{"scale":{"y":"independent"}}},
{"width":72,"height":88,"transform":[{"filter":"datum.p=='ELP6'"}],
"encoding":{"x":{"field":"grp","type":"nominal","sort":["ROC22","FN39"],"scale":{"paddingInner":0.4,"paddingOuter":0.1},"axis":{"title":null,"labelAngle":0,"labelExpr":"['CK SrMV', datum.label]","ticks":false,"labelPadding":5,"labelLineHeight":13}},"xOffset":{"field":"trt","type":"nominal","sort":["CK","SrMV"],"scale":{"paddingInner":0.375,"paddingOuter":0.02}}},
"layer":[
{"layer":[
{"mark":{"type":"bar"},"encoding":{"y":{"field":"g","type":"quantitative","scale":{"domain":[0,1.5],"nice":false},"axis":{"title":"Relative expression of target gene","values":[0,0.3,0.6,0.9,1.2,1.5],"labelExpr":"datum.value == 0 ? '0' : format(datum.value, '.1f')"}},"color":{"datum":"ELP6","scale":{"domain":["ELP6","nov_40875"],"range":["#a9c8e8","#ed7d31"]},"legend":{"title":null,"encode":{"symbols":{"update":{"shape":{"signal":"datum.index === 0 ? 'M-1,-0.25H1V0.25H-1Z' : 'M-1,-0.12H1V0.12H-1Z'"},"fill":{"signal":"datum.index === 0 ? '#a9c8e8' : '#ed7d31'"},"strokeWidth":{"value":0}}},"labels":{"update":{"fontStyle":{"signal":"datum.index === 0 ? 'italic' : 'normal'"}}}}}}}},
{"mark":{"type":"rule","color":"#7f7f7f"},"encoding":{"y":{"field":"gl","type":"quantitative","scale":{"domain":[0,1.5],"nice":false},"axis":{"title":"Relative expression of target gene","values":[0,0.3,0.6,0.9,1.2,1.5],"labelExpr":"datum.value == 0 ? '0' : format(datum.value, '.1f')"}},"y2":{"field":"gh"}}},
{"mark":{"type":"text","baseline":"bottom","dy":-1,"color":"#000"},"encoding":{"y":{"field":"gh","type":"quantitative","scale":{"domain":[0,1.5],"nice":false},"axis":{"title":"Relative expression of target gene","values":[0,0.3,0.6,0.9,1.2,1.5],"labelExpr":"datum.value == 0 ? '0' : format(datum.value, '.1f')"}},"text":{"field":"ga"}}}
]},
{"layer":[
{"mark":{"type":"line","strokeWidth":2.5},"encoding":{"y":{"field":"m","type":"quantitative","scale":{"domain":[0,1.5],"nice":false},"axis":{"orient":"right","title":"Relative expression of miRNA","titleAngle":270,"titleBaseline":"top","values":[0,0.3,0.6,0.9,1.2,1.5],"labelExpr":"datum.value == 0 ? '0' : format(datum.value, '.1f')"}},"detail":{"field":"grp"},"color":{"datum":"nov_40875"}}},
{"mark":{"type":"rule","color":"#7f7f7f"},"encoding":{"y":{"field":"ml","type":"quantitative","scale":{"domain":[0,1.5],"nice":false},"axis":{"orient":"right","title":"Relative expression of miRNA","titleAngle":270,"titleBaseline":"top","values":[0,0.3,0.6,0.9,1.2,1.5],"labelExpr":"datum.value == 0 ? '0' : format(datum.value, '.1f')"}},"y2":{"field":"mh"}}},
{"mark":{"type":"text","baseline":"bottom","dy":-1,"color":"#ed7d31"},"encoding":{"y":{"field":"mh","type":"quantitative","scale":{"domain":[0,1.5],"nice":false},"axis":{"orient":"right","title":"Relative expression of miRNA","titleAngle":270,"titleBaseline":"top","values":[0,0.3,0.6,0.9,1.2,1.5],"labelExpr":"datum.value == 0 ? '0' : format(datum.value, '.1f')"}},"text":{"field":"ma"}}}
]}],
"resolve":{"scale":{"y":"independent"}}}
]}
]},
{"title":{"text":"C","orient":"left","anchor":"end","angle":0,"offset":2},"spacing":4,
"resolve":{"scale":{"color":"independent","y":"independent","x":"independent","xOffset":"independent"},"legend":{"color":"independent"}},
"hconcat":[
{"width":75,"height":88,"transform":[{"filter":"datum.p=='rbcLBP'"}],
"encoding":{"x":{"field":"grp","type":"nominal","sort":["ROC22","FN39"],"scale":{"paddingInner":0.4,"paddingOuter":0.1},"axis":{"title":null,"labelAngle":0,"labelExpr":"['CK SrMV', datum.label]","ticks":false,"labelPadding":5,"labelLineHeight":13}},"xOffset":{"field":"trt","type":"nominal","sort":["CK","SrMV"],"scale":{"paddingInner":0.375,"paddingOuter":0.02}}},
"layer":[
{"layer":[
{"mark":{"type":"bar"},"encoding":{"y":{"field":"g","type":"quantitative","scale":{"domain":[0,2.1],"nice":false},"axis":{"title":"Relative expression of target gene","values":[0,0.3,0.6,0.9,1.2,1.5,1.8,2.1],"format":".1f"}},"color":{"datum":"rbcLBP","scale":{"domain":["rbcLBP","miR165a-3p"],"range":["#a9c8e8","#ed7d31"]},"legend":{"title":null,"encode":{"symbols":{"update":{"shape":{"signal":"datum.index === 0 ? 'M-1,-0.25H1V0.25H-1Z' : 'M-1,-0.12H1V0.12H-1Z'"},"fill":{"signal":"datum.index === 0 ? '#a9c8e8' : '#ed7d31'"},"strokeWidth":{"value":0}}},"labels":{"update":{"fontStyle":{"signal":"datum.index === 0 ? 'italic' : 'normal'"}}}}}}}},
{"mark":{"type":"rule","color":"#7f7f7f"},"encoding":{"y":{"field":"gl","type":"quantitative","scale":{"domain":[0,2.1],"nice":false},"axis":{"title":"Relative expression of target gene","values":[0,0.3,0.6,0.9,1.2,1.5,1.8,2.1],"format":".1f"}},"y2":{"field":"gh"}}},
{"mark":{"type":"text","baseline":"bottom","dy":-1,"color":"#000"},"encoding":{"y":{"field":"gh","type":"quantitative","scale":{"domain":[0,2.1],"nice":false},"axis":{"title":"Relative expression of target gene","values":[0,0.3,0.6,0.9,1.2,1.5,1.8,2.1],"format":".1f"}},"text":{"field":"ga"}}}
]},
{"layer":[
{"mark":{"type":"line","strokeWidth":2.5},"encoding":{"y":{"field":"m","type":"quantitative","scale":{"domain":[0,7],"nice":false},"axis":{"orient":"right","title":"Relative expression of miRNA","titleAngle":270,"titleBaseline":"top","values":[0,1,2,3,4,5,6,7],"format":".1f"}},"detail":{"field":"grp"},"color":{"datum":"miR165a-3p"}}},
{"mark":{"type":"rule","color":"#7f7f7f"},"encoding":{"y":{"field":"ml","type":"quantitative","scale":{"domain":[0,7],"nice":false},"axis":{"orient":"right","title":"Relative expression of miRNA","titleAngle":270,"titleBaseline":"top","values":[0,1,2,3,4,5,6,7],"format":".1f"}},"y2":{"field":"mh"}}},
{"mark":{"type":"text","baseline":"bottom","dy":-1,"color":"#ed7d31"},"encoding":{"y":{"field":"mh","type":"quantitative","scale":{"domain":[0,7],"nice":false},"axis":{"orient":"right","title":"Relative expression of miRNA","titleAngle":270,"titleBaseline":"top","values":[0,1,2,3,4,5,6,7],"format":".1f"}},"text":{"field":"ma"}}}
]}],
"resolve":{"scale":{"y":"independent"}}},
{"width":75,"height":88,"transform":[{"filter":"datum.p=='ATPs-3'"}],
"encoding":{"x":{"field":"grp","type":"nominal","sort":["ROC22","FN39"],"scale":{"paddingInner":0.4,"paddingOuter":0.1},"axis":{"title":null,"labelAngle":0,"labelExpr":"['CK SrMV', datum.label]","ticks":false,"labelPadding":5,"labelLineHeight":13}},"xOffset":{"field":"trt","type":"nominal","sort":["CK","SrMV"],"scale":{"paddingInner":0.375,"paddingOuter":0.02}}},
"layer":[
{"layer":[
{"mark":{"type":"bar"},"encoding":{"y":{"field":"g","type":"quantitative","scale":{"domain":[0,3.2],"nice":false},"axis":{"title":"Relative expression of target gene","values":[0,0.4,0.8,1.2,1.6,2,2.4,2.8,3.2],"format":".1f"}},"color":{"datum":"ATPs-3","scale":{"domain":["ATPs-3","miR395b"],"range":["#a9c8e8","#ed7d31"]},"legend":{"title":null,"encode":{"symbols":{"update":{"shape":{"signal":"datum.index === 0 ? 'M-1,-0.25H1V0.25H-1Z' : 'M-1,-0.12H1V0.12H-1Z'"},"fill":{"signal":"datum.index === 0 ? '#a9c8e8' : '#ed7d31'"},"strokeWidth":{"value":0}}},"labels":{"update":{"fontStyle":{"signal":"datum.index === 0 ? 'italic' : 'normal'"}}}}}}}},
{"mark":{"type":"rule","color":"#7f7f7f"},"encoding":{"y":{"field":"gl","type":"quantitative","scale":{"domain":[0,3.2],"nice":false},"axis":{"title":"Relative expression of target gene","values":[0,0.4,0.8,1.2,1.6,2,2.4,2.8,3.2],"format":".1f"}},"y2":{"field":"gh"}}},
{"mark":{"type":"text","baseline":"bottom","dy":-1,"color":"#000"},"encoding":{"y":{"field":"gh","type":"quantitative","scale":{"domain":[0,3.2],"nice":false},"axis":{"title":"Relative expression of target gene","values":[0,0.4,0.8,1.2,1.6,2,2.4,2.8,3.2],"format":".1f"}},"text":{"field":"ga"}}}
]},
{"layer":[
{"mark":{"type":"line","strokeWidth":2.5},"encoding":{"y":{"field":"m","type":"quantitative","scale":{"domain":[0,2.5],"nice":false},"axis":{"orient":"right","title":"Relative expression of miRNA","titleAngle":270,"titleBaseline":"top","values":[0,0.5,1,1.5,2,2.5],"format":".1f"}},"detail":{"field":"grp"},"color":{"datum":"miR395b"}}},
{"mark":{"type":"rule","color":"#7f7f7f"},"encoding":{"y":{"field":"ml","type":"quantitative","scale":{"domain":[0,2.5],"nice":false},"axis":{"orient":"right","title":"Relative expression of miRNA","titleAngle":270,"titleBaseline":"top","values":[0,0.5,1,1.5,2,2.5],"format":".1f"}},"y2":{"field":"mh"}}},
{"mark":{"type":"text","baseline":"bottom","dy":-1,"color":"#ed7d31"},"encoding":{"y":{"field":"mh","type":"quantitative","scale":{"domain":[0,2.5],"nice":false},"axis":{"orient":"right","title":"Relative expression of miRNA","titleAngle":270,"titleBaseline":"top","values":[0,0.5,1,1.5,2,2.5],"format":".1f"}},"text":{"field":"ma"}}}
]}],
"resolve":{"scale":{"y":"independent"}}},
{"width":75,"height":88,"transform":[{"filter":"datum.p=='LAST-3'"}],
"encoding":{"x":{"field":"grp","type":"nominal","sort":["ROC22","FN39"],"scale":{"paddingInner":0.4,"paddingOuter":0.1},"axis":{"title":null,"labelAngle":0,"labelExpr":"['CK SrMV', datum.label]","ticks":false,"labelPadding":5,"labelLineHeight":13}},"xOffset":{"field":"trt","type":"nominal","sort":["CK","SrMV"],"scale":{"paddingInner":0.375,"paddingOuter":0.02}}},
"layer":[
{"layer":[
{"mark":{"type":"bar"},"encoding":{"y":{"field":"g","type":"quantitative","scale":{"domain":[0,1.5],"nice":false},"axis":{"title":"Relative expression of target gene","values":[0,0.3,0.6,0.9,1.2,1.5],"format":".1f"}},"color":{"datum":"LAST-3","scale":{"domain":["LAST-3","miR395b"],"range":["#a9c8e8","#ed7d31"]},"legend":{"title":null,"encode":{"symbols":{"update":{"shape":{"signal":"datum.index === 0 ? 'M-1,-0.25H1V0.25H-1Z' : 'M-1,-0.12H1V0.12H-1Z'"},"fill":{"signal":"datum.index === 0 ? '#a9c8e8' : '#ed7d31'"},"strokeWidth":{"value":0}}},"labels":{"update":{"fontStyle":{"signal":"datum.index === 0 ? 'italic' : 'normal'"}}}}}}}},
{"mark":{"type":"rule","color":"#7f7f7f"},"encoding":{"y":{"field":"gl","type":"quantitative","scale":{"domain":[0,1.5],"nice":false},"axis":{"title":"Relative expression of target gene","values":[0,0.3,0.6,0.9,1.2,1.5],"format":".1f"}},"y2":{"field":"gh"}}},
{"mark":{"type":"text","baseline":"bottom","dy":-1,"color":"#000"},"encoding":{"y":{"field":"gh","type":"quantitative","scale":{"domain":[0,1.5],"nice":false},"axis":{"title":"Relative expression of target gene","values":[0,0.3,0.6,0.9,1.2,1.5],"format":".1f"}},"text":{"field":"ga"}}}
]},
{"layer":[
{"mark":{"type":"line","strokeWidth":2.5},"encoding":{"y":{"field":"m","type":"quantitative","scale":{"domain":[0,2.5],"nice":false},"axis":{"orient":"right","title":"Relative expression of miRNA","titleAngle":270,"titleBaseline":"top","values":[0,0.5,1,1.5,2,2.5],"format":".1f"}},"detail":{"field":"grp"},"color":{"datum":"miR395b"}}},
{"mark":{"type":"rule","color":"#7f7f7f"},"encoding":{"y":{"field":"ml","type":"quantitative","scale":{"domain":[0,2.5],"nice":false},"axis":{"orient":"right","title":"Relative expression of miRNA","titleAngle":270,"titleBaseline":"top","values":[0,0.5,1,1.5,2,2.5],"format":".1f"}},"y2":{"field":"mh"}}},
{"mark":{"type":"text","baseline":"bottom","dy":-1,"color":"#ed7d31"},"encoding":{"y":{"field":"mh","type":"quantitative","scale":{"domain":[0,2.5],"nice":false},"axis":{"orient":"right","title":"Relative expression of miRNA","titleAngle":270,"titleBaseline":"top","values":[0,0.5,1,1.5,2,2.5],"format":".1f"}},"text":{"field":"ma"}}}
]}],
"resolve":{"scale":{"y":"independent"}}},
{"width":75,"height":88,"transform":[{"filter":"datum.p=='PP2Ac'"}],
"encoding":{"x":{"field":"grp","type":"nominal","sort":["ROC22","FN39"],"scale":{"paddingInner":0.4,"paddingOuter":0.1},"axis":{"title":null,"labelAngle":0,"labelExpr":"['CK SrMV', datum.label]","ticks":false,"labelPadding":5,"labelLineHeight":13}},"xOffset":{"field":"trt","type":"nominal","sort":["CK","SrMV"],"scale":{"paddingInner":0.375,"paddingOuter":0.02}}},
"layer":[
{"layer":[
{"mark":{"type":"bar"},"encoding":{"y":{"field":"g","type":"quantitative","scale":{"domain":[0,1.6],"nice":false},"axis":{"title":"Relative expression of target gene","values":[0,0.4,0.8,1.2,1.6],"format":".1f"}},"color":{"datum":"PP2Ac","scale":{"domain":["PP2Ac","nov_28432"],"range":["#a9c8e8","#ed7d31"]},"legend":{"title":null,"encode":{"symbols":{"update":{"shape":{"signal":"datum.index === 0 ? 'M-1,-0.25H1V0.25H-1Z' : 'M-1,-0.12H1V0.12H-1Z'"},"fill":{"signal":"datum.index === 0 ? '#a9c8e8' : '#ed7d31'"},"strokeWidth":{"value":0}}},"labels":{"update":{"fontStyle":{"signal":"datum.index === 0 ? 'italic' : 'normal'"}}}}}}}},
{"mark":{"type":"rule","color":"#7f7f7f"},"encoding":{"y":{"field":"gl","type":"quantitative","scale":{"domain":[0,1.6],"nice":false},"axis":{"title":"Relative expression of target gene","values":[0,0.4,0.8,1.2,1.6],"format":".1f"}},"y2":{"field":"gh"}}},
{"mark":{"type":"text","baseline":"bottom","dy":-1,"color":"#000"},"encoding":{"y":{"field":"gh","type":"quantitative","scale":{"domain":[0,1.6],"nice":false},"axis":{"title":"Relative expression of target gene","values":[0,0.4,0.8,1.2,1.6],"format":".1f"}},"text":{"field":"ga"}}}
]},
{"layer":[
{"mark":{"type":"line","strokeWidth":2.5},"encoding":{"y":{"field":"m","type":"quantitative","scale":{"domain":[0,4.5],"nice":false},"axis":{"orient":"right","title":"Relative expression of miRNA","titleAngle":270,"titleBaseline":"top","values":[0,0.9,1.8,2.7,3.6,4.5],"format":".1f"}},"detail":{"field":"grp"},"color":{"datum":"nov_28432"}}},
{"mark":{"type":"rule","color":"#7f7f7f"},"encoding":{"y":{"field":"ml","type":"quantitative","scale":{"domain":[0,4.5],"nice":false},"axis":{"orient":"right","title":"Relative expression of miRNA","titleAngle":270,"titleBaseline":"top","values":[0,0.9,1.8,2.7,3.6,4.5],"format":".1f"}},"y2":{"field":"mh"}}},
{"mark":{"type":"text","baseline":"bottom","dy":-1,"color":"#ed7d31"},"encoding":{"y":{"field":"mh","type":"quantitative","scale":{"domain":[0,4.5],"nice":false},"axis":{"orient":"right","title":"Relative expression of miRNA","titleAngle":270,"titleBaseline":"top","values":[0,0.9,1.8,2.7,3.6,4.5],"format":".1f"}},"text":{"field":"ma"}}}
]}],
"resolve":{"scale":{"y":"independent"}}},
{"width":75,"height":88,"transform":[{"filter":"datum.p=='ARF6'"}],
"encoding":{"x":{"field":"grp","type":"nominal","sort":["ROC22","FN39"],"scale":{"paddingInner":0.4,"paddingOuter":0.1},"axis":{"title":null,"labelAngle":0,"labelExpr":"['CK SrMV', datum.label]","ticks":false,"labelPadding":5,"labelLineHeight":13}},"xOffset":{"field":"trt","type":"nominal","sort":["CK","SrMV"],"scale":{"paddingInner":0.375,"paddingOuter":0.02}}},
"layer":[
{"layer":[
{"mark":{"type":"bar"},"encoding":{"y":{"field":"g","type":"quantitative","scale":{"domain":[0,6],"nice":false},"axis":{"title":"Relative expression of target gene","values":[0,1,2,3,4,5,6],"format":".1f"}},"color":{"datum":"ARF6","scale":{"domain":["ARF6","nov_22650"],"range":["#a9c8e8","#ed7d31"]},"legend":{"title":null,"encode":{"symbols":{"update":{"shape":{"signal":"datum.index === 0 ? 'M-1,-0.25H1V0.25H-1Z' : 'M-1,-0.12H1V0.12H-1Z'"},"fill":{"signal":"datum.index === 0 ? '#a9c8e8' : '#ed7d31'"},"strokeWidth":{"value":0}}},"labels":{"update":{"fontStyle":{"signal":"datum.index === 0 ? 'italic' : 'normal'"}}}}}}}},
{"mark":{"type":"rule","color":"#7f7f7f"},"encoding":{"y":{"field":"gl","type":"quantitative","scale":{"domain":[0,6],"nice":false},"axis":{"title":"Relative expression of target gene","values":[0,1,2,3,4,5,6],"format":".1f"}},"y2":{"field":"gh"}}},
{"mark":{"type":"text","baseline":"bottom","dy":-1,"color":"#000"},"encoding":{"y":{"field":"gh","type":"quantitative","scale":{"domain":[0,6],"nice":false},"axis":{"title":"Relative expression of target gene","values":[0,1,2,3,4,5,6],"format":".1f"}},"text":{"field":"ga"}}}
]},
{"layer":[
{"mark":{"type":"line","strokeWidth":2.5},"encoding":{"y":{"field":"m","type":"quantitative","scale":{"domain":[0,5],"nice":false},"axis":{"orient":"right","title":"Relative Expression of miRNA","titleAngle":270,"titleBaseline":"top","values":[0,1,2,3,4,5],"format":".1f"}},"detail":{"field":"grp"},"color":{"datum":"nov_22650"}}},
{"mark":{"type":"rule","color":"#7f7f7f"},"encoding":{"y":{"field":"ml","type":"quantitative","scale":{"domain":[0,5],"nice":false},"axis":{"orient":"right","title":"Relative Expression of miRNA","titleAngle":270,"titleBaseline":"top","values":[0,1,2,3,4,5],"format":".1f"}},"y2":{"field":"mh"}}},
{"mark":{"type":"text","baseline":"bottom","dy":-1,"color":"#ed7d31"},"encoding":{"y":{"field":"mh","type":"quantitative","scale":{"domain":[0,5],"nice":false},"axis":{"orient":"right","title":"Relative Expression of miRNA","titleAngle":270,"titleBaseline":"top","values":[0,1,2,3,4,5],"format":".1f"}},"text":{"field":"ma"}}}
]}],
"resolve":{"scale":{"y":"independent"}}}
]}
]
}
